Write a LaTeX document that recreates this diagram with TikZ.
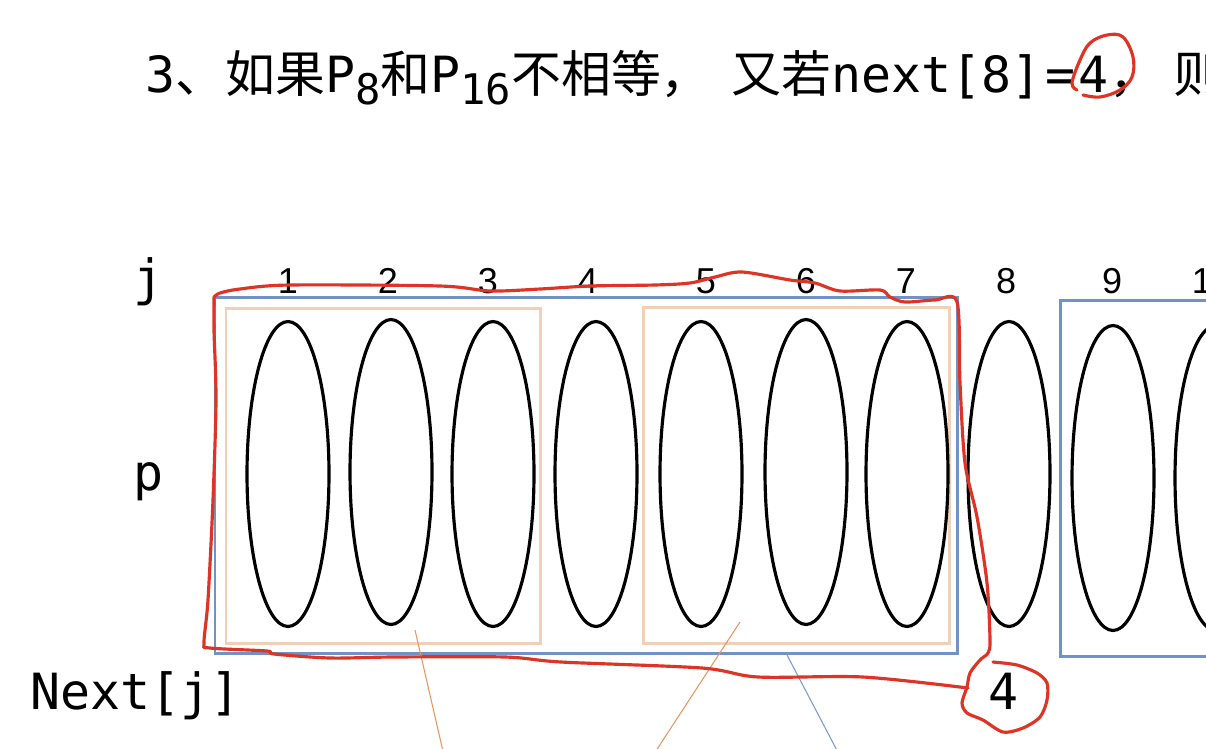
\documentclass[tikz,border=0pt]{standalone}
\usepackage{fontspec}
\usepackage{tikz}
\usetikzlibrary{shapes.geometric}
\setmonofont{DejaVu Sans Mono}
\newfontfamily\cjk{Noto Sans CJK SC}
\newfontfamily\numfont{Liberation Sans}
\newcommand\lowsub[1]{\raisebox{-7pt}{\fontsize{24}{24}\selectfont #1}}
\definecolor{boxblue}{RGB}{112,146,198}
\definecolor{boxtan}{RGB}{242,207,183}
\definecolor{inkred}{RGB}{222,52,38}
\definecolor{thinorange}{RGB}{232,150,95}
\definecolor{thinblue}{RGB}{120,155,205}
\tikzset{
  oval/.style={ellipse,draw,line width=1.8pt,minimum width=1.64cm,minimum height=6.1cm,inner sep=0pt},
  idx/.style={inner sep=0pt,anchor=base,font=\numfont\fontsize{20.5}{24}\selectfont},
  rowlab/.style={inner sep=0pt,anchor=base west,font=\ttfamily\fontsize{28.4}{34}\selectfont},
  bluebox/.style={draw=boxblue,line width=1.7pt},
  tanbox/.style={draw=boxtan,line width=1.7pt},
  pen/.style={draw=inkred,line width=1.8pt,line cap=round,line join=round},
}

\begin{document}
\begin{tikzpicture}[x=0.02cm,y=-0.02cm]
\clip (0,0) rectangle (1206,748);
\fill[white] (0,0) rectangle (1206,748);

\node[rowlab] (title) at (145,92) {3{\cjk 、如果}P\lowsub{8}{\cjk 和}P\lowsub{16}{\cjk 不相等，}\kern12pt{\cjk 又若}next[8]\kern2pt=\kern2pt4{\cjk ，}\kern8pt{\cjk 则}};

\node[rowlab] (jlab) at (133,295) {j};
\node[rowlab] (plab) at (133,490) {p};
\node[rowlab] (nextlab) at (30,709) {Next[j]};
\node[rowlab,anchor=base] (nextval) at (1004,709) {4};

\node[idx] (n1) at (288,293) {1};
\node[idx] (n2) at (388,293) {2};
\node[idx] (n3) at (488,293) {3};
\node[idx] (n4) at (588,293) {4};
\node[idx] (n5) at (706,293) {5};
\node[idx] (n6) at (806,293) {6};
\node[idx] (n7) at (906,293) {7};
\node[idx] (n8) at (1006,293) {8};
\node[idx] (n9) at (1112,293) {9};
\node[idx] (n10) at (1212,293) {10};

\draw[bluebox] (215,297) rectangle (957,653);
\draw[bluebox] (1060,300) rectangle (1240,656);
\draw[tanbox] (226,308) rectangle (540,643);
\draw[tanbox] (643,307) rectangle (949,643);

\node[oval] (e1) at (288,474) {};
\node[oval] (e2) at (391,472) {};
\node[oval] (e3) at (493,474) {};
\node[oval] (e4) at (596,474) {};
\node[oval] (e5) at (701,474) {};
\node[oval] (e6) at (806,472) {};
\node[oval] (e7) at (907,474) {};
\node[oval] (e8) at (1009,474) {};
\node[oval] (e9) at (1113,478) {};
\node[oval] (e10) at (1216,478) {};

\coordinate (a1) at (415,630);
\coordinate (a2) at (445,760);
\coordinate (b1) at (740,622);
\coordinate (b2) at (650,760);
\coordinate (c1) at (787,655);
\coordinate (c2) at (842,760);
\draw[thinorange,line width=0.6pt] (a1)--(a2);
\draw[thinorange,line width=0.6pt] (b1)--(b2);
\draw[thinblue,line width=0.6pt] (c1)--(c2);

\draw[pen] plot[smooth,tension=0.5] coordinates {(214,297) (220,293) (240,289) (290,285) (440,286) (490,291) (540,289) (590,286) (655,285) (690,283) (715,277) (742,272) (790,280) (815,283) (840,291) (880,290) (890,297) (905,302) (935,300) (957,302) (960,383) (965,463) (977,517) (987,583) (990,640) (988,653) (980,660) (970,673) (967,687) (962,703) (967,713) (983,720) (1003,732) (1023,728) (1040,717) (1047,700) (1047,683) (1037,673) (1017,665) (993,662)};
\draw[pen] plot[smooth,tension=0.5] coordinates {(968,688) (863,677) (758,677) (702,668) (561,662) (505,657) (393,657) (330,658) (274,654) (267,651) (210,648) (204,643) (208,600) (213,500) (216,400) (214,330) (214,297)};
\draw[pen] plot[smooth,tension=0.6] coordinates {(1077,90) (1072,83) (1080,60) (1090,43) (1107,35) (1123,37) (1133,57) (1132,77) (1120,90) (1100,97) (1083,95)};
\end{tikzpicture}
\end{document}
